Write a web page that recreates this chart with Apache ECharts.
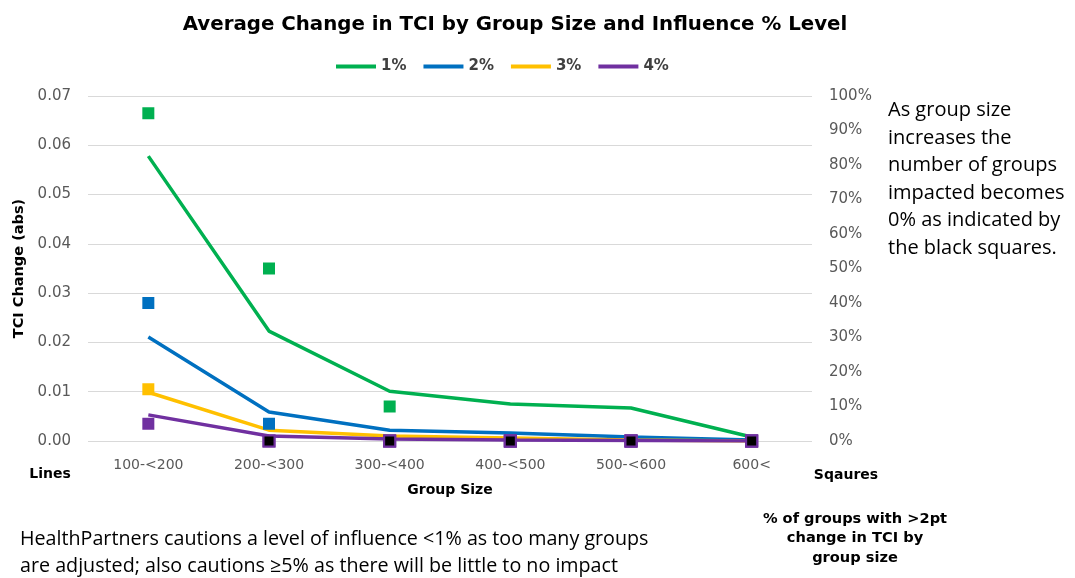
<!DOCTYPE html>
<html>
<head>
<meta charset="utf-8">
<script src="https://cdn.jsdelivr.net/npm/echarts@6/dist/echarts.min.js"></script>
<style>
html,body{margin:0;padding:0;background:#fff;}
#chart{width:1075px;height:578px;}
</style>
</head>
<body>
<div id="chart"></div>
<script>
// group size buckets
const groupSizes = ['100-<200', '200-<300', '300-<400', '400-<500', '500-<600', '600<'];
// lines: average TCI change (abs), left axis
const tci1 = [0.0578, 0.0223, 0.0101, 0.0075, 0.0067, 0.0008];
const tci2 = [0.0211, 0.0059, 0.0022, 0.0016, 0.0008, 0.0002];
const tci3 = [0.0099, 0.0022, 0.0010, 0.0006, 0.0002, 0.0000];
const tci4 = [0.0053, 0.0010, 0.0004, 0.0002, 0.0001, 0.0000];
// squares: % of groups with >2pt change, right axis
const pct1 = [95, 50, 10, 0, 0, 0];
const pct2 = [40, 5, 0, 0, 0, 0];
const pct3 = [15, 0, 0, 0, 0, 0];
const pct4 = [5, 0, 0, 0, 0, 0];
const levels = ['1%', '2%', '3%', '4%'];
const leftTicks = [0, 0.07, 0.01];
const rightTicks = [0, 100, 10];

const colors = ['#00b050', '#0070c0', '#ffc000', '#7030a0'];
const txt = '#595959';
const chartFont = "'DejaVu Sans', Verdana, sans-serif";
const boxFont = "'Open Sans', 'Liberation Sans', sans-serif";

const chart = echarts.init(document.getElementById('chart'));

const lines = [tci1, tci2, tci3, tci4].map((d, i) => ({
  name: levels[i],
  type: 'line',
  data: d,
  symbol: 'none',
  z: 2,
  lineStyle: {color: colors[i], width: 3.5},
  itemStyle: {color: colors[i]}
}));

// zero points are drawn black with a purple edge
const squares = [pct1, pct2, pct3, pct4].map((d, i) => ({
  name: 'sq' + levels[i],
  type: 'scatter',
  yAxisIndex: 1,
  symbol: 'rect',
  symbolSize: 12,
  z: 3,
  data: d.map(v => v === 0
    ? {value: v, symbolSize: 11, itemStyle: {color: '#000', borderColor: '#7030a0', borderWidth: 2, opacity: 1}}
    : {value: v, itemStyle: {color: colors[i], opacity: 1}})
}));

const option = {
  animation: false,
  textStyle: {fontFamily: chartFont},
  title: {
    text: 'Average Change in TCI by Group Size and Influence % Level',
    left: 510, top: 10, textAlign: 'center',
    textStyle: {fontFamily: chartFont, fontSize: 19.8, fontWeight: 'bold', color: '#000'}
  },
  legend: {
    data: levels,
    top: 54, left: 331,
    icon: 'rect',
    itemWidth: 40, itemHeight: 4, itemGap: 17,
    textStyle: {fontFamily: chartFont, fontSize: 15, fontWeight: 'bold', color: '#404040'}
  },
  grid: {left: 88, right: 263, top: 96, bottom: 137},
  xAxis: {
    type: 'category',
    data: groupSizes,
    axisLine: {show: false},
    axisTick: {show: false},
    axisLabel: {color: txt, fontSize: 14, margin: 17},
    name: 'Group Size',
    nameLocation: 'middle',
    nameGap: 42,
    nameTextStyle: {fontSize: 14, fontWeight: 'bold', color: '#000'}
  },
  yAxis: [{
    type: 'value',
    min: leftTicks[0], max: leftTicks[1], interval: leftTicks[2],
    axisLine: {show: false},
    axisTick: {show: false},
    splitLine: {lineStyle: {color: '#d9d9d9', width: 1}},
    axisLabel: {color: txt, fontSize: 15, margin: 17, formatter: v => v.toFixed(2)},
    name: 'TCI Change (abs)',
    nameLocation: 'middle',
    nameRotate: 90,
    nameGap: 61,
    nameTextStyle: {fontSize: 14.5, fontWeight: 'bold', color: '#000'}
  }, {
    type: 'value',
    min: rightTicks[0], max: rightTicks[1], interval: rightTicks[2],
    axisLine: {show: false},
    axisTick: {show: false},
    splitLine: {show: false},
    axisLabel: {color: txt, fontSize: 15, margin: 17, formatter: v => v + '%'}
  }],
  graphic: [
    {type: 'text', x: 50, y: 474, style: {text: 'Lines', font: 'bold 14px ' + chartFont, fill: '#000', align: 'center', verticalAlign: 'middle'}},
    {type: 'text', x: 846, y: 475, style: {text: 'Sqaures', font: 'bold 14px ' + chartFont, fill: '#000', align: 'center', verticalAlign: 'middle'}},
    {type: 'text', x: 855, y: 509, style: {
      text: '% of groups with >2pt\nchange in TCI by\ngroup size',
      font: 'bold 14.6px ' + chartFont, lineHeight: 19.5, align: 'center', fill: '#000'}},
    {type: 'text', left: 888, top: 97, style: {
      text: 'As group size\nincreases the\nnumber of groups\nimpacted becomes\n0% as indicated by\nthe black squares.',
      font: '20px ' + boxFont, lineHeight: 27.5, fill: '#000'}},
    {type: 'text', left: 20, top: 526, style: {
      text: 'HealthPartners cautions a level of influence <1% as too many groups\nare adjusted; also cautions \u22655% as there will be little to no impact',
      font: '19.7px ' + boxFont, lineHeight: 27, fill: '#000'}}
  ],
  series: lines.concat(squares)
};

chart.setOption(option);
</script>
</body>
</html>
